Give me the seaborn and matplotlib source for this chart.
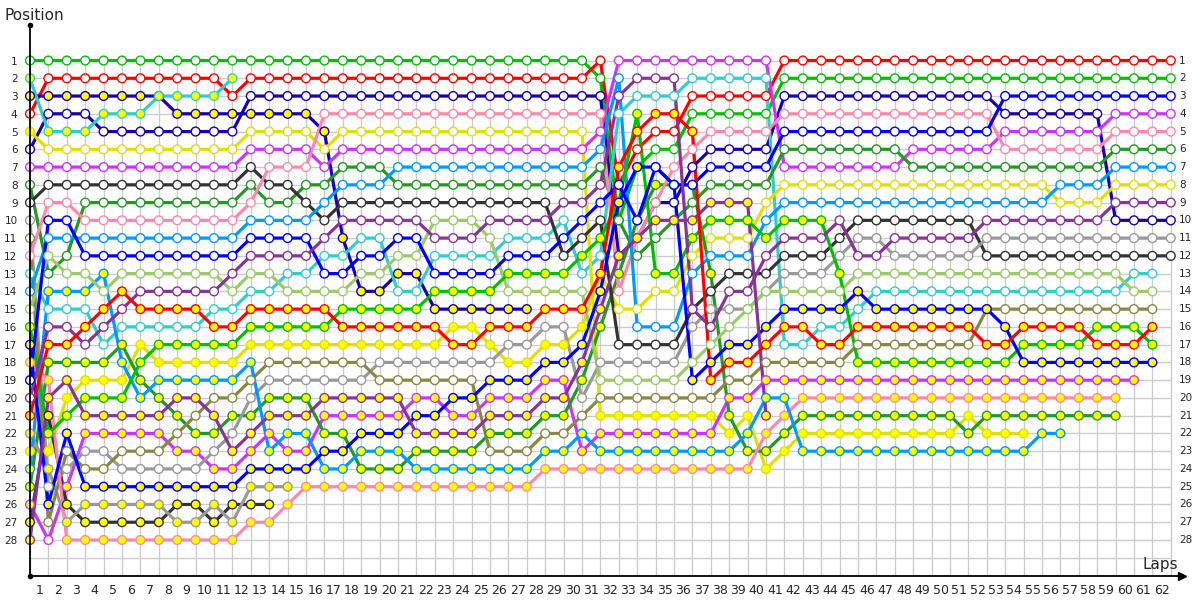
import numpy as np
import pandas as pd
import seaborn as sns
import matplotlib.pyplot as plt

N = None

# race positions, lap 0 (grid) .. lap 62 ; None = retired / not yet finished
green_a = [1, 1, 1, 1, 1, 1, 1, 1, 1, 1,  1, 1, 1, 1, 1, 1, 1, 1, 1, 1,
           1, 1, 1, 1, 1, 1, 1, 1, 1, 1,  1, 2, 10, 7, 6, 6, 4, 4, 4, 4,
           4, 2, 2, 2, 2, 2, 2, 2, 2, 2,  2, 2, 2, 2, 2, 2, 2, 2, 2, 2,  2, 2, 2]
red_a = [4, 2, 2, 2, 2, 2, 2, 2, 2, 2,  2, 3, 2, 2, 2, 2, 2, 2, 2, 2,
         2, 2, 2, 2, 2, 2, 2, 2, 2, 2,  2, 1, 8, 6, 5, 5, 3, 3, 3, 3,
         3, 1, 1, 1, 1, 1, 1, 1, 1, 1,  1, 1, 1, 1, 1, 1, 1, 1, 1, 1,  1, 1, 1]
navy_a = [3, 3, 3, 3, 3, 3, 3, 3, 4, 4,  4, 4, 4, 4, 4, 4, 5, 11, 14, 14,
          13, 13, 15, 15, 15, 15, 15, 15, N, N,  N, N, N, N, N, N, N, N, N, N,
          N, N, N, N, N, N, N, N, N, N,  N, N, N, N, N, N, N, N, N, N,  N, N, N]
navy_b = [6, 4, 4, 4, 5, 5, 5, 5, 5, 5,  5, 5, 3, 3, 3, 3, 3, 3, 3, 3,
          3, 3, 3, 3, 3, 3, 3, 3, 3, 3,  3, 3, 12, 11, 9, 9, 7, 6, 6, 6,
          6, 3, 3, 3, 3, 3, 3, 3, 3, 3,  3, 3, 3, 4, 4, 4, 4, 4, 4, 10,  10, 10, 10]
cyan_a = [2, 5, 5, 5, 4, 4, 4, 3, 3, 3,  3, 2, N, N, N, N, N, N, N, N,
          N, N, N, N, N, N, N, N, N, N,  N, N, N, N, N, N, N, N, N, N,
          N, N, N, N, N, N, N, N, N, N,  N, N, N, N, N, N, N, N, N, N,  N, N, N]
cyan_b = [13, 15, 15, 15, 17, 16, 16, 16, 16, 16,  15, 15, 14, 14, 13, 13, 12, 12, 11, 11,
          14, 14, 12, 12, 12, 12, 11, 11, 11, 10,  13, 12, 4, 3, 3, 3, 2, 2, 2, 2,
          2, 17, 17, 16, 16, 15, 14, 14, 14, 14,  14, 14, 14, 14, 14, 14, 14, 14, 14, 14,  13, 13, N]
yellow_a = [5, 6, 6, 6, 6, 6, 6, 6, 6, 6,  6, 6, 5, 5, 5, 5, 6, 5, 5, 5,
            5, 5, 5, 5, 5, 5, 5, 5, 5, 5,  5, 21, 21, 21, 21, 21, 21, 21, 22, 21,
            24, 23, 22, 22, 22, 22, 22, 22, 22, 22,  22, 21, 22, 22, 22, N, N, N, N, N,  N, N, N]
yellow_b = [23, 23, 20, 19, 19, 19, 17, 18, 18, 18,  18, 18, 17, 17, 17, 17, 17, 17, 17, 17,
            17, 17, 17, 16, 16, 17, 18, 18, 17, 17,  16, 13, 15, 15, 14, 14, 12, 11, 11, 11,
            9, 8, 8, 8, 8, 8, 8, 8, 8, 8,  8, 8, 8, 8, 8, 8, 9, 9, 9, 8,  8, 8, 8]
violet_a = [7, 7, 7, 7, 7, 7, 7, 7, 7, 7,  7, 7, 6, 6, 6, 6, 7, 6, 6, 6,
            6, 6, 6, 6, 6, 6, 6, 6, 6, 6,  6, 5, 1, 1, 1, 1, 1, 1, 1, 1,
            1, 7, 7, 7, 7, 7, 7, 7, 6, 6,  6, 6, 6, 5, 5, 5, 5, 5, 5, 4,  4, 4, 4]
violet_b = [26, 28, 25, 22, 22, 22, 22, 22, 23, 23,  24, 24, 23, 22, 23, 23, 21, 21, 21, 21,
            21, 20, 20, 21, 21, 20, 20, 20, 19, 19,  23, 22, 22, 22, 22, 22, 22, 22, 20, 20,
            19, 19, 19, 19, 19, 19, 19, 19, 19, 19,  19, 19, 19, 19, 19, 19, 19, 19, 19, 19,  19, N, N]
fgreen_a = [8, 13, 12, 9, 9, 9, 9, 9, 9, 9,  9, 9, 8, 9, 9, 8, 8, 7, 7, 7,
            8, 8, 8, 8, 8, 8, 8, 8, 8, 8,  8, 7, 10, 12, 11, 10, 9, 8, 8, 8,
            8, 6, 6, 6, 6, 6, 6, 6, 7, 7,  7, 7, 7, 7, 7, 7, 7, 7, 7, 6,  6, 6, 6]
fgreen_b = [25, 18, 18, 18, 18, 17, 19, 20, 21, 22,  22, 21, 21, 20, 20, 20, 22, 22, 24, 24,
            24, 23, 23, 23, 23, 22, 22, 22, 21, 21,  19, 16, 13, 10, 8, 8, 8, 13, 21, 23,
            23, 22, 21, 21, 21, 21, 21, 21, 21, 21,  21, 22, 21, 21, 21, 21, 21, 21, 21, 21,  N, N, N]
dgray_a = [9, 8, 8, 8, 8, 8, 8, 8, 8, 8,  8, 8, 7, 8, 8, 9, 10, 9, 9, 9,
           9, 9, 9, 9, 9, 9, 9, 9, 9, 12,  11, 10, 17, 17, 17, 17, 15, 14, 13, 13,
           13, 12, 12, 12, 11, 10, 10, 10, 10, 10,  10, 10, 12, 12, 12, 12, 12, 12, 12, 12,  12, 12, 12]
dgray_b = [27, 21, 26, 27, 27, 27, 27, 27, 26, 26,  27, 26, 26, 26, N, N, N, N, N, N,
           N, N, N, N, N, N, N, N, N, N,  N, N, N, N, N, N, N, N, N, N,
           N, N, N, N, N, N, N, N, N, N,  N, N, N, N, N, N, N, N, N, N,  N, N, N]
gray_a = [10, 25, 24, 23, 23, 24, 24, 24, 24, 24,  23, 22, 20, 19, 19, 19, 19, 19, 19, 18,
          18, 18, 18, 18, 18, 18, 17, 17, 16, 16,  20, 18, 18, 18, 18, 18, 16, 15, 15, 15,
          14, 13, 13, 13, 12, 11, 11, 12, 12, 12,  12, 12, 11, 11, 11, 11, 11, 11, 11, 11,  11, 11, 11]
gray_b = [22, 24, 27, 26, 26, 26, 26, 26, 27, 27,  26, 27, 25, 25, 25, N, N, N, N, N,
          N, N, N, N, N, N, N, N, N, N,  N, N, N, N, N, N, N, N, N, N,
          N, N, N, N, N, N, N, N, N, N,  N, N, N, N, N, N, N, N, N, N,  N, N, N]
olive_a = [11, 27, 23, 24, 24, 23, 23, 23, 22, 21,  20, 20, 19, 18, 18, 18, 18, 18, 18, 19,
           19, 19, 19, 19, 19, 23, 23, 23, 22, 22,  21, 20, 20, 20, 20, 20, 20, 20, 19, 19,
           18, 18, 18, 18, 18, 17, 17, 17, 17, 17,  17, 17, 15, 15, 15, 15, 15, 15, 15, 15,  15, 15, N]
pink_a = [12, 9, 9, 10, 10, 10, 10, 10, 10, 10,  10, 10, 9, 7, 7, 7, 4, 4, 4, 4,
          4, 4, 4, 4, 4, 4, 4, 4, 4, 4,  4, 4, 14, 11, 9, 7, 6, 5, 5, 5,
          5, 4, 4, 4, 4, 4, 4, 4, 4, 4,  4, 4, 4, 6, 6, 6, 6, 6, 6, 5,  5, 5, 5]
pink_b = [18, 19, 28, 28, 28, 28, 28, 28, 28, 28,  28, 28, 27, 27, 26, 25, 25, 25, 25, 25,
          25, 25, 25, 25, 25, 25, 25, 25, 24, 24,  24, 24, 24, 24, 24, 24, 24, 24, 24, 24,
          22, 21, 20, 20, 20, 20, 20, 20, 20, 20,  20, 20, 20, 20, 20, 20, 20, 20, 20, 20,  N, N, N]
sky_a = [14, 11, 11, 11, 11, 11, 11, 11, 11, 11,  11, 11, 10, 10, 10, 10, 9, 8, 8, 8,
         7, 7, 7, 7, 7, 7, 7, 7, 7, 7,  7, 6, 2, 16, 16, 16, 13, 12, 12, 12,
         10, 9, 9, 9, 9, 9, 9, 9, 9, 9,  9, 9, 9, 9, 9, 9, 8, 8, 8, 7,  7, 7, 7]
sky_b = [24, 14, 14, 14, 13, 18, 20, 19, 19, 19,  19, 19, 18, 23, 22, 22, 24, 24, 23, 23,
         23, 24, 24, 24, 24, 24, 24, 24, 23, 23,  22, 23, 23, 23, 23, 23, 23, 23, 23, 22,
         20, 20, 23, 23, 23, 23, 23, 23, 23, 23,  23, 23, 23, 23, 23, 22, 22, N, N, N,  N, N, N]
lgreen_a = [15, 12, 13, 13, 14, 13, 13, 13, 13, 13,  13, 14, 13, 13, 14, 14, 14, 14, 13, 13,
            12, 12, 10, 10, 10, 11, 14, 14, 14, 14,  14, 19, 19, 19, 19, 19, 18, 17, 16, 15,
            14, 14, 14, 14, 14, 13, 13, 13, 13, 13,  13, 13, 13, 13, 13, 13, 13, 13, 13, 13,  14, 14, N]
green_b = [16, 22, 21, 20, 20, 20, 18, 17, 17, 17,  17, 17, 16, 16, 16, 16, 16, 15, 15, 15,
           15, 15, 14, 14, 14, 14, 13, 13, 13, 13,  12, 11, 9, 4, 13, 13, 11, 10, 10, 10,
           11, 10, 10, 10, 13, 18, 18, 18, 18, 18,  18, 18, 18, 18, 17, 17, 17, 17, 16, 16,  16, 17, N]
blue_a = [17, 26, 22, 25, 25, 25, 25, 25, 25, 25,  25, 25, 24, 24, 24, 24, 23, 23, 22, 22,
          22, 21, 21, 20, 20, 19, 19, 19, 18, 18,  17, 14, 9, 7, 7, 8, 19, 18, 17, 17,
          16, 15, 15, 15, 15, 14, 15, 15, 15, 15,  15, 15, 15, 16, 18, 18, 18, 18, 18, 18,  18, 18, N]
blue_b = [19, 10, 10, 12, 12, 12, 12, 12, 12, 12,  12, 12, 11, 11, 11, 11, 13, 13, 12, 12,
          11, 11, 13, 13, 13, 13, 12, 12, 12, 11,  10, 9, 8, 10, 7, 8, 8, 7, 7, 7,
          7, 5, 5, 5, 5, 5, 5, 5, 5, 5,  5, 5, 5, 3, 3, 3, 3, 3, 3, 3,  3, 3, 3]
plum_a = [20, 16, 16, 17, 16, 15, 14, 14, 14, 14,  14, 13, 12, 12, 12, 12, 11, 10, 10, 10,
          10, 10, 11, 11, 11, 10, 10, 10, 10, 9,  9, 8, 3, 2, 2, 2, 15, 16, 14, 14,
          12, 11, 11, 11, 10, 12, 12, 11, 11, 11,  11, 11, 10, 10, 10, 10, 10, 10, 10, 9,  9, 9, 9]
plum_b = [28, 20, 19, 21, 21, 21, 21, 21, 20, 20,  21, 23, 22, 21, 21, 21, 20, 20, 20, 20,
          20, 22, 22, 22, 22, 21, 21, 21, 20, 20,  18, 15, 12, 11, 10, 10, 10, 9, 9, 9,
          21, N, N, N, N, N, N, N, N, N,  N, N, N, N, N, N, N, N, N, N,  N, N, N]
red_b = [21, 17, 17, 16, 15, 14, 15, 15, 15, 15,  16, 16, 15, 15, 15, 15, 15, 16, 16, 16,
         16, 16, 16, 17, 17, 16, 16, 16, 15, 15,  15, 13, 7, 5, 4, 4, 5, 19, 18, 18,
         17, 16, 16, 17, 17, 16, 16, 16, 16, 16,  16, 16, 17, 17, 16, 16, 16, 16, 17, 17,  17, 16, N]

# laps (inclusive ranges) where the marker is filled yellow
ALL = [(0, 62)]
yellow_fill = {
    "navy_a": ALL, "cyan_a": ALL, "yellow_a": [(0, 0), (31, 62)], "yellow_b": [(0, 30)],
    "violet_b": [(0, 0), (2, 62)], "fgreen_b": ALL, "dgray_b": ALL, "gray_b": ALL,
    "pink_b": ALL, "sky_b": ALL, "green_b": ALL, "blue_a": ALL, "plum_b": ALL, "red_b": ALL,
}

drivers = [
    ("green_a", green_a, "#00c000"), ("red_a", red_a, "#ff0000"),
    ("navy_a", navy_a, "#1800b0"), ("navy_b", navy_b, "#1800b0"),
    ("cyan_a", cyan_a, "#33cccc"), ("cyan_b", cyan_b, "#33cccc"),
    ("yellow_a", yellow_a, "#e0e000"), ("yellow_b", yellow_b, "#e0e000"),
    ("violet_a", violet_a, "#cc33ff"), ("violet_b", violet_b, "#cc33ff"),
    ("fgreen_a", fgreen_a, "#229922"), ("fgreen_b", fgreen_b, "#229922"),
    ("dgray_a", dgray_a, "#333333"), ("dgray_b", dgray_b, "#333333"),
    ("gray_a", gray_a, "#999999"), ("gray_b", gray_b, "#999999"),
    ("olive_a", olive_a, "#888844"), ("pink_a", pink_a, "#ff88aa"),
    ("pink_b", pink_b, "#ff88aa"), ("sky_a", sky_a, "#0099ff"),
    ("sky_b", sky_b, "#0099ff"), ("lgreen_a", lgreen_a, "#99cc66"),
    ("green_b", green_b, "#00c000"), ("blue_a", blue_a, "#0000ff"),
    ("blue_b", blue_b, "#0000ff"), ("plum_a", plum_a, "#883399"),
    ("plum_b", plum_b, "#883399"), ("red_b", red_b, "#ff0000"),
]

rows = []
for name, pos, col in drivers:
    for lap, p in enumerate(pos):
        if p is None:
            continue
        fill = "#ffffff"
        for a, b in yellow_fill.get(name, []):
            if a <= lap <= b:
                fill = "#ffff00"
        rows.append((name, lap, p, fill))
df = pd.DataFrame(rows, columns=["driver", "lap", "pos", "fill"])
palette = {name: col for name, _, col in drivers}

sns.set_theme(style="white")
plt.rcParams['font.family'] = ['DejaVu Sans']

fig = plt.figure(figsize=(12, 6), dpi=100)
ax = fig.add_axes([30 / 1200, 1 - 575.5 / 600, 1150 / 1200, 550.5 / 600])
ax.set_xlim(0, 62.5)
ax.set_ylim(30, -1)
for s in ax.spines.values():
    s.set_visible(False)

# grid
ax.vlines(np.arange(0, 63), 1, 30, color="#cccccc", lw=1, zorder=0)
ax.hlines(np.arange(1, 30), 0, 62, color="#cccccc", lw=1, zorder=0)

sns.lineplot(data=df, x="lap", y="pos", hue="driver", palette=palette,
             estimator=None, sort=False, lw=2.3, legend=False, ax=ax, zorder=2)
for name, _, col in drivers:
    d = df[df.driver == name]
    ax.scatter(d.lap, d.pos, s=40, facecolors=d["fill"], edgecolors=col,
               linewidths=1.0, zorder=3, clip_on=False)

# axes with arrows
ax.plot([0, 0], [30, -1], color="black", lw=1.3, clip_on=False, zorder=4)
ax.plot([0, 62.6], [30, 30], color="black", lw=1.3, clip_on=False, zorder=4)
ax.plot([0], [-1], marker="o", ms=3, color="black", clip_on=False, zorder=4)
ax.plot([0], [30], marker="o", ms=3, color="black", clip_on=False, zorder=4)
ax.plot([62.6], [30], marker=">", ms=6, color="black", clip_on=False, zorder=4)

laps = np.arange(1, 63)
ax.set_xticks(laps - 0.5)
ax.set_xticklabels([str(k) for k in laps], fontsize=9)
ax.set_yticks(np.arange(1, 29))
ax.set_yticklabels([str(k) for k in range(1, 29)], fontsize=7.5)
ax.tick_params(axis="x", length=0, pad=6)
ax.tick_params(axis="y", length=0, pad=9)
for k in range(1, 29):
    ax.text(62.45, k, str(k), fontsize=7.5, va="center", ha="left", clip_on=False)
ax.set_xlabel("")
ax.set_ylabel("")

fig.text(5 / 1200, 1 - 16 / 600, "Position", fontsize=11, va="center", ha="left")
fig.text(1143 / 1200, 1 - 565 / 600, "Laps", fontsize=11, va="center", ha="left")

fig.savefig("out.png", dpi=100)
